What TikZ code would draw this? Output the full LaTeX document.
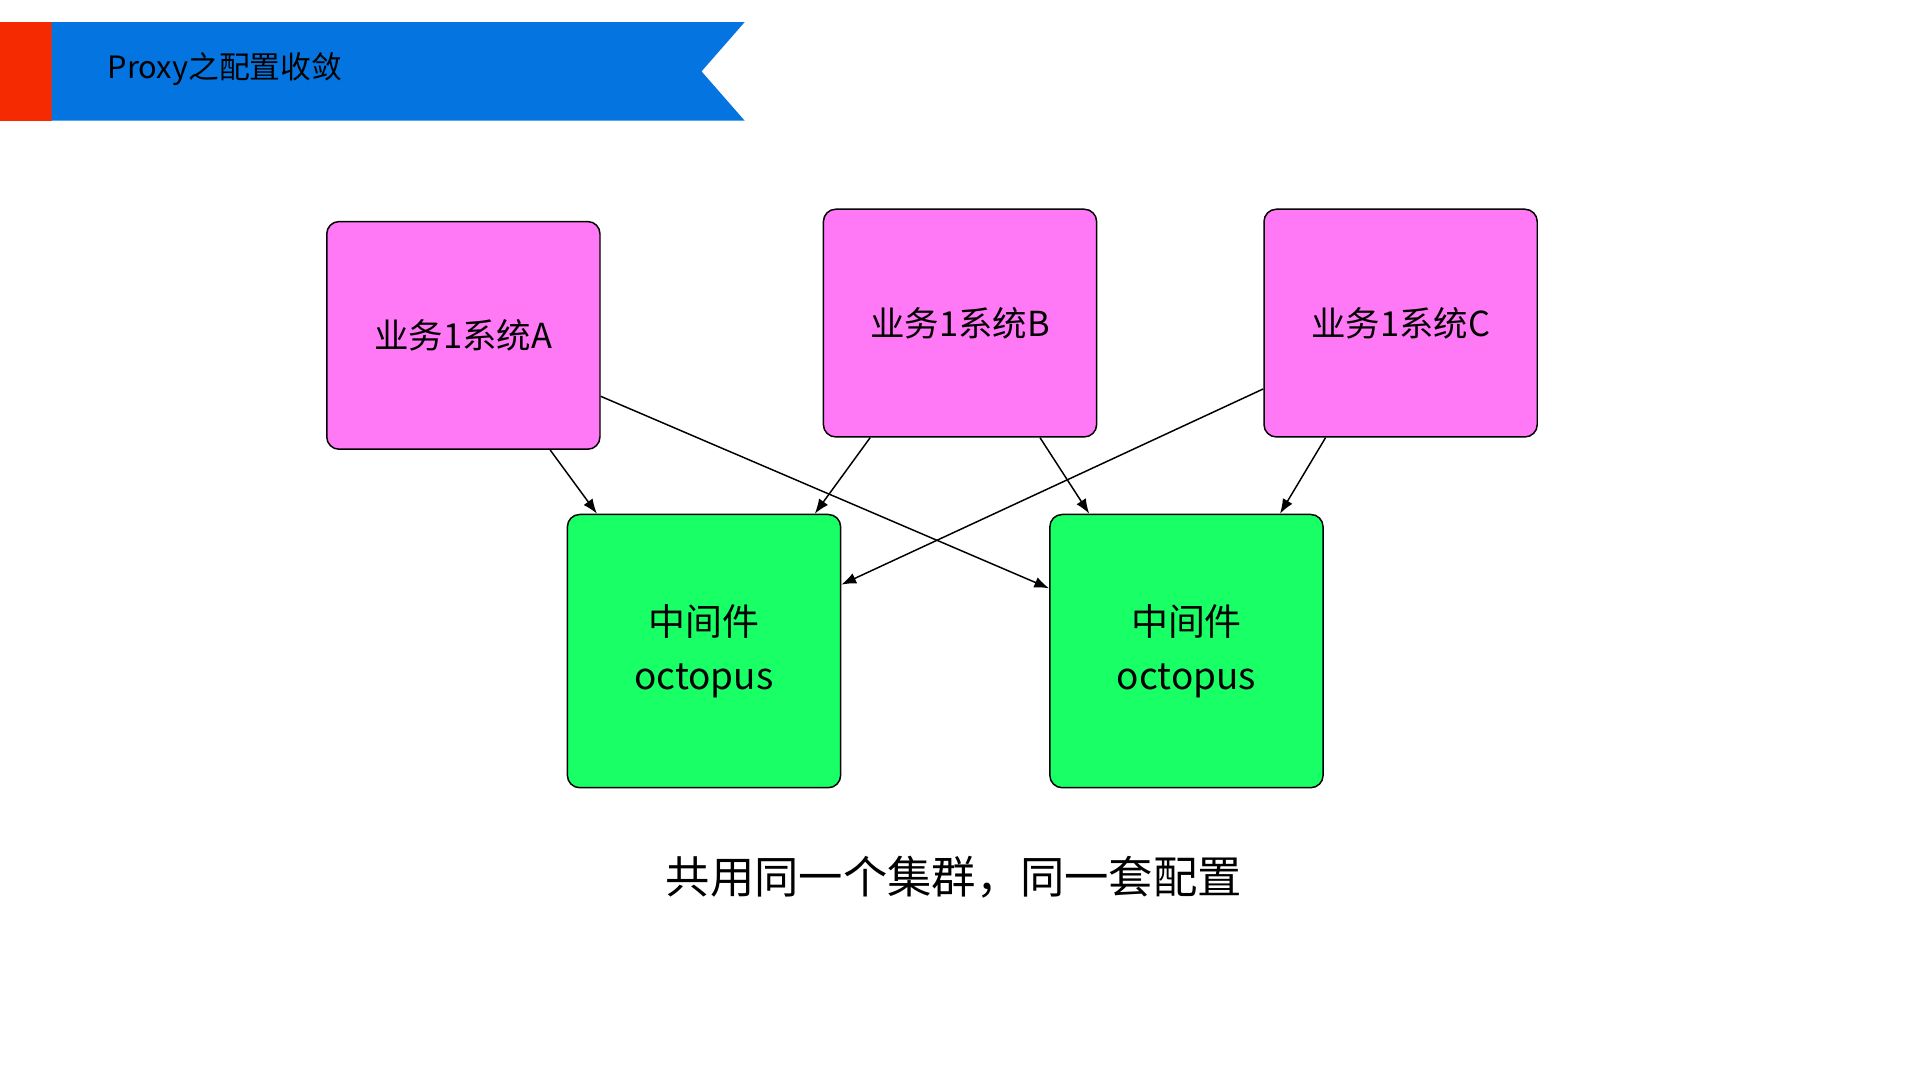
\documentclass[tikz,border=0pt]{standalone}
\usepackage{fontspec}
\setmainfont{Noto Sans CJK SC}
\usetikzlibrary{arrows.meta,positioning}
\definecolor{color_banner_red}{HTML}{F62A00}
\definecolor{color_banner_blue}{HTML}{0475E0}
\definecolor{color_system}{HTML}{FF79F7}
\definecolor{color_proxy}{HTML}{19FF66}
\tikzset{
	system/.style={draw=black,line width=1.2pt,rounded corners=10pt,fill=color_system,
		minimum width=222pt,minimum height=185pt,font=\fontsize{28}{32}\selectfont},
	proxy/.style={draw=black,line width=1.2pt,rounded corners=10pt,fill=color_proxy,
		minimum width=222pt,minimum height=222pt,align=center,font=\fontsize{30}{44}\selectfont},
	link/.style={line width=1.2pt,-{Latex[length=12pt,width=9pt]}}
}
\begin{document}
\begin{tikzpicture}[x=1pt,y=-1pt]
				\useasboundingbox (0,0) rectangle (1560,878);
				% Banner
				\fill[color_banner_red] (0,18) rectangle (42,98);
				\fill[color_banner_blue] (42,18) -- (605,18) -- (570,58) -- (605,98) -- (42,98) -- cycle;
				\node[anchor=west,font=\fontsize{25}{30}\selectfont] (title) at (84,56) {Proxy之配置收敛};

				% Systems
				\node[system] (sysA) at (376.5,272.5) {业务1系统A};
				\node[system] (sysB) at (780,262.5) {业务1系统B};
				\node[system] (sysC) at (1138,262.5) {业务1系统C};

				% Middleware
				\node[proxy] (octoA) at (572,529) {中间件\\octopus};
				\node[proxy] (octoB) at (964,529) {中间件\\octopus};

				% Links
				\draw[link] ([xshift=70.5pt]sysA.south) -- ([xshift=-87pt]octoA.north);
				\draw[link] ([yshift=-49.5pt]sysA.east) -- ([yshift=51pt]octoB.west);
				\draw[link] ([xshift=-73pt]sysB.south) -- ([xshift=90pt]octoA.north);
				\draw[link] ([xshift=65pt]sysB.south) -- ([xshift=-79pt]octoB.north);
				\draw[link] ([yshift=-53.5pt]sysC.west) -- ([yshift=54pt]octoA.east);
				\draw[link] ([xshift=-61pt]sysC.south) -- ([xshift=76pt]octoB.north);

				% Caption
				\node[font=\fontsize{36}{40}\selectfont] (caption) at (775,713) {共用同一个集群，同一套配置};
\end{tikzpicture}
\end{document}
